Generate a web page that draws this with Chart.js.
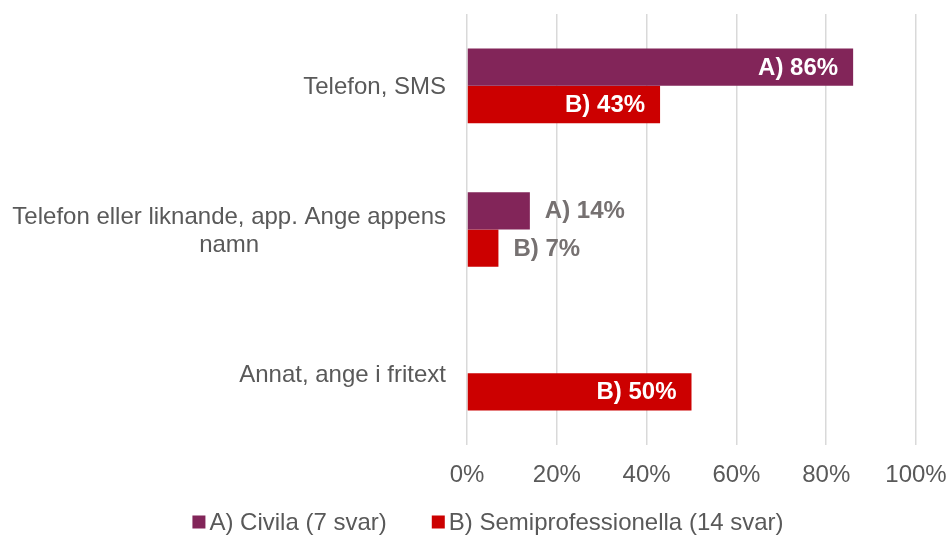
<!DOCTYPE html>
<html>
<head>
<meta charset="utf-8">
<script src="https://cdn.jsdelivr.net/npm/chart.js@4/dist/chart.umd.min.js"></script>
<style>
  html, body { margin: 0; padding: 0; background: #fff; }
  #wrap { width: 948px; height: 537px; }
</style>
</head>
<body>
<div id="wrap"><canvas id="chart" width="948" height="537"></canvas></div>
<script>
const categories = [
  ["Telefon, SMS"],
  ["Telefon eller liknande, app. Ange appens", "namn"],
  ["Annat, ange i fritext"],
];
const seriesNames = ["A) Civila (7 svar)", "B) Semiprofessionella (14 svar)"];
const seriesPrefix = ["A)", "B)"];
const civila = [86, 14, null];
const semipro = [43, 7, 50];
const xTicks = [0, 20, 40, 60, 80, 100];

const COLORS = ["#822559", "#CC0000"];
const FONT = "'Liberation Sans', Arial, sans-serif";
const TEXT_GRAY = "#595959";
const LABEL_GRAY = "#767171";

// category labels: each block right aligned, lines centered inside the block
const categoryLabelPlugin = {
  id: "categoryLabels",
  afterDraw: (chart) => {
    const ctx = chart.ctx;
    const yScale = chart.scales.y;
    const right = chart.chartArea.left - 21;
    ctx.save();
    ctx.font = "24px " + FONT;
    ctx.fillStyle = TEXT_GRAY;
    ctx.textAlign = "center";
    ctx.textBaseline = "middle";
    categories.forEach((lines, i) => {
      const y = yScale.getPixelForTick(i) + 2;
      const w = Math.max(...lines.map((l) => ctx.measureText(l).width));
      const lineH = 28;
      const y0 = y - ((lines.length - 1) * lineH) / 2;
      lines.forEach((l, j) => ctx.fillText(l, right - w / 2, y0 + j * lineH));
    });
    ctx.restore();
  },
};

const barLabelPlugin = {
  id: "barLabels",
  afterDatasetsDraw: (chart) => {
    const ctx = chart.ctx;
    ctx.save();
    ctx.font = "bold 24px " + FONT;
    ctx.textBaseline = "middle";
    chart.data.datasets.forEach((ds, di) => {
      const meta = chart.getDatasetMeta(di);
      meta.data.forEach((bar, i) => {
        const v = ds.data[i];
        if (v === null || v === undefined) return;
        const text = seriesPrefix[di] + " " + v + "%";
        const tw = ctx.measureText(text).width;
        const barW = bar.x - bar.base;
        if (tw + 30 < barW) {
          ctx.fillStyle = "#ffffff";
          ctx.textAlign = "right";
          ctx.fillText(text, bar.x - 15, bar.y + 1);
        } else {
          ctx.fillStyle = LABEL_GRAY;
          ctx.textAlign = "left";
          ctx.fillText(text, bar.x + 15, bar.y + 1);
        }
      });
    });
    ctx.restore();
  },
};

const legendPlugin = {
  id: "bottomLegend",
  afterDraw: (chart) => {
    const ctx = chart.ctx;
    ctx.save();
    ctx.font = "24px " + FONT;
    ctx.textBaseline = "middle";
    ctx.textAlign = "left";
    const box = 13, gap = 4, spacing = 45;
    const widths = seriesNames.map((n) => ctx.measureText(n).width);
    const total = widths.reduce((a, w) => a + box + gap + w, 0) + spacing * (seriesNames.length - 1);
    let x = 488 - total / 2;
    const y = 522;
    seriesNames.forEach((n, i) => {
      ctx.fillStyle = COLORS[i];
      ctx.fillRect(x, y - box / 2, box, box);
      ctx.fillStyle = TEXT_GRAY;
      ctx.fillText(n, x + box + gap, y + 1);
      x += box + gap + widths[i] + spacing;
    });
    ctx.restore();
  },
};

new Chart(document.getElementById("chart"), {
  type: "bar",
  data: {
    labels: categories.map((c) => c.join(" ")),
    datasets: [
      { label: seriesNames[0], data: civila, backgroundColor: COLORS[0] },
      { label: seriesNames[1], data: semipro, backgroundColor: COLORS[1] },
    ],
  },
  plugins: [categoryLabelPlugin, barLabelPlugin, legendPlugin],
  options: {
    indexAxis: "y",
    responsive: false,
    animation: false,
    barPercentage: 1,
    categoryPercentage: 0.52,
    layout: { padding: { top: 14, right: 32, bottom: 50, left: 0 } },
    plugins: {
      legend: { display: false },
      tooltip: { enabled: false },
    },
    scales: {
      x: {
        min: 0,
        max: 100,
        afterBuildTicks: (scale) => {
          scale.ticks = xTicks.map((v) => ({ value: v }));
        },
        afterFit: (scale) => {
          scale.height = 42;
          scale.paddingLeft = 0;
          scale.paddingRight = 0;
        },
        grid: { color: "#d9d9d9", lineWidth: 1.5, drawTicks: false },
        border: { display: false },
        ticks: {
          padding: 16,
          color: TEXT_GRAY,
          font: { family: FONT, size: 24 },
          callback: (v) => v + "%",
        },
      },
      y: {
        afterFit: (scale) => {
          scale.width = 467;
        },
        grid: { display: false },
        border: { display: false },
        ticks: { display: false },
      },
    },
  },
});
</script>
</body>
</html>
